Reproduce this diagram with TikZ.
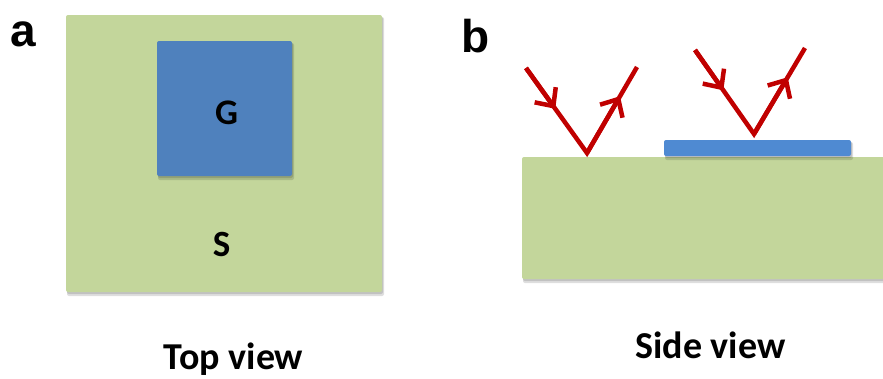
\documentclass[tikz,border=0pt]{standalone}
\usepackage{fontspec}
\setmainfont{Carlito}
\newfontfamily\labfont{Liberation Sans}
\usetikzlibrary{arrows.meta,calc}
\definecolor{subgreen}{HTML}{C3D69B}
\definecolor{gblue}{HTML}{4F81BD}
\definecolor{sblue}{HTML}{4F8AD2}
\definecolor{raycol}{HTML}{C00000}
\begin{document}
\begin{tikzpicture}[x=1pt,y=-1pt,
  slab/.style={fill=subgreen, rounded corners=2pt},
  shd/.style={fill=black, opacity=0.13, rounded corners=2pt},
  txt/.style={font=\bfseries, inner sep=0pt, anchor=base},
  panel/.style={font=\labfont\bfseries\fontsize{46}{50}\selectfont, inner sep=0pt, anchor=base},
  rayline/.style={draw=raycol, line width=4.5pt, line join=miter},
  raytip/.style={-{Straight Barb[length=14pt,width=26pt]}, draw=raycol, line width=4.5pt}
]
\useasboundingbox (0,0) rectangle (883,378);

% ---- panel a : top view ----
\fill[shd] (67,17) rectangle (384,296);
\fill[shd] (67,17) rectangle (383,294);
\fill[slab] (66,15) rectangle (382,292);
\fill[shd] (158,43) rectangle (294,180);
\fill[shd] (158,43) rectangle (293,178);
\fill[gblue, rounded corners=2pt] (157,41) rectangle (292,176);

\node[panel] (la) at (23,46) {a};
\node[txt, font=\bfseries\fontsize{36}{40}\selectfont] (G) at (226.5,124) {G};
\node[txt, font=\bfseries\fontsize{37}{40}\selectfont] (S) at (221.5,256) {S};
\node[txt, font=\bfseries\fontsize{38}{42}\selectfont] (top) at (233.5,369) {Top view};

% ---- panel b : side view ----
\fill[shd] (523,159) rectangle (885,283);
\fill[shd] (523,159) rectangle (885,281);
\fill[slab] (522,157) rectangle (886,279);
\fill[shd] (665,142) rectangle (853,160);
\fill[shd] (665,142) rectangle (852,158);
\fill[sblue, rounded corners=2pt] (664,140) rectangle (851,156);

\node[panel] (lb) at (476,52) {b};
\node[txt, font=\bfseries\fontsize{38}{42}\selectfont] (side) at (710.5,358) {Side view};

% rays on bare substrate
\coordinate (s1) at (526,68);
\coordinate (v1) at (587,153);
\coordinate (e1) at (637,67);
\draw[rayline] (s1) -- (v1) -- (e1);
\draw[raytip] (s1) -- ($(s1)!0.48!(v1)$);
\draw[raytip] (v1) -- ($(v1)!0.66!(e1)$);

% rays on flake
\coordinate (s2) at (695,50);
\coordinate (v2) at (754,134);
\coordinate (e2) at (805,48);
\draw[rayline] (s2) -- (v2) -- (e2);
\draw[raytip] (s2) -- ($(s2)!0.48!(v2)$);
\draw[raytip] (v2) -- ($(v2)!0.66!(e2)$);
\end{tikzpicture}
\end{document}
